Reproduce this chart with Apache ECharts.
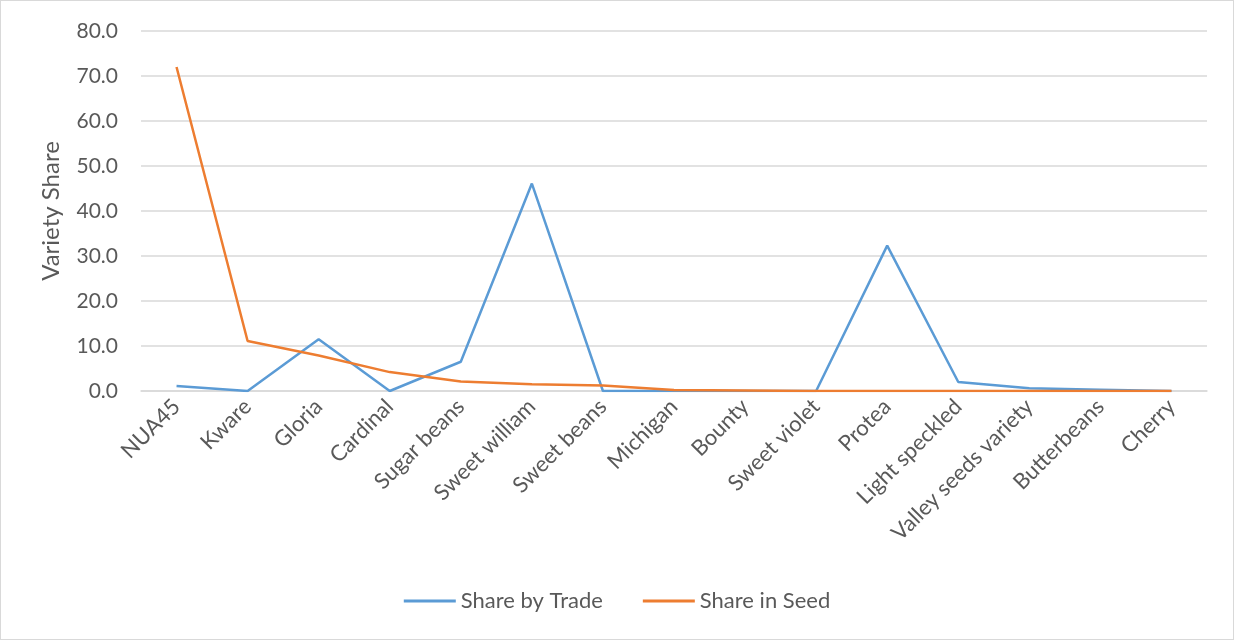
<!DOCTYPE html>
<html>
<head>
<meta charset="utf-8">
<script src="https://cdn.jsdelivr.net/npm/echarts@6/dist/echarts.min.js"></script>
<style>
  html, body { margin: 0; padding: 0; background: #fff; }
  #chart { width: 1232px; height: 638px; border: 1px solid #D9D9D9; }
</style>
</head>
<body>
<div id="chart"></div>
<script>
// Varieties along the x axis
const varieties = ['NUA45', 'Kware', 'Gloria', 'Cardinal', 'Sugar beans', 'Sweet william',
  'Sweet beans', 'Michigan', 'Bounty', 'Sweet violet', 'Protea', 'Light speckled',
  'Valley seeds variety', 'Butterbeans', 'Cherry'];

// Share (%) of each variety by trade
const shareByTrade = [1.1, 0.0, 11.5, 0.0, 6.5, 46.1, 0.0, 0.0, 0.0, 0.0, 32.3, 2.0, 0.6, 0.3, 0.0];

// Share (%) of each variety in seed
const shareInSeed = [72.0, 11.1, 7.9, 4.2, 2.1, 1.5, 1.2, 0.2, 0.1, 0.0, 0.0, 0.0, 0.0, 0.0, 0.0];

const textColor = '#595959';
const fontFamily = 'Lato, "Open Sans", sans-serif';

const chart = echarts.init(document.getElementById('chart'));
chart.setOption({
  animation: false,
  textStyle: { fontFamily: fontFamily },
  grid: { left: 140, right: 26, top: 30, bottom: 248, containLabel: false },
  legend: {
    bottom: 22,
    left: 'center',
    itemWidth: 52,
    itemHeight: 3,
    itemGap: 40,
    icon: 'rect',
    textStyle: { color: textColor, fontSize: 22, fontFamily: fontFamily },
    data: ['Share by Trade', 'Share in Seed']
  },
  xAxis: {
    type: 'category',
    data: varieties,
    boundaryGap: true,
    axisLine: { show: true, lineStyle: { color: '#D9D9D9', width: 1.5 } },
    axisTick: { show: false },
    axisLabel: { rotate: 45, color: textColor, fontSize: 22, margin: 12, interval: 0 }
  },
  yAxis: {
    type: 'value',
    min: 0,
    max: 80,
    interval: 10,
    name: 'Variety Share',
    nameLocation: 'middle',
    nameGap: 78,
    nameTextStyle: { color: textColor, fontSize: 24 },
    axisLine: { show: false },
    axisTick: { show: false },
    axisLabel: { color: textColor, fontSize: 21, margin: 23, formatter: v => v.toFixed(1) },
    splitLine: { lineStyle: { color: '#D9D9D9', width: 1.5 } }
  },
  series: [
    {
      name: 'Share by Trade',
      type: 'line',
      data: shareByTrade,
      symbol: 'none',
      lineStyle: { color: '#5B9BD5', width: 2.5 },
      itemStyle: { color: '#5B9BD5' }
    },
    {
      name: 'Share in Seed',
      type: 'line',
      data: shareInSeed,
      symbol: 'none',
      lineStyle: { color: '#ED7D31', width: 2.5 },
      itemStyle: { color: '#ED7D31' }
    }
  ]
});
</script>
</body>
</html>
